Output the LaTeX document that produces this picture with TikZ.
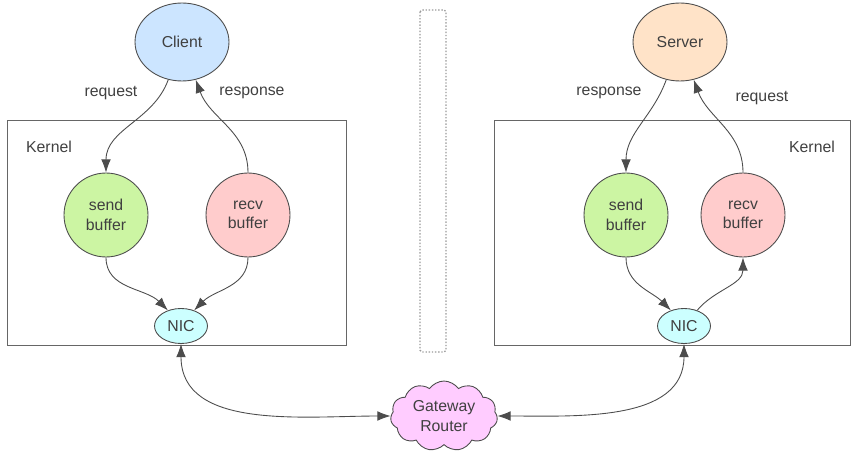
\documentclass[tikz,border=0pt]{standalone}
\usepackage{fontspec}
\setsansfont{Liberation Sans}
\usetikzlibrary{arrows.meta,shapes.symbols,shapes.geometric}
\definecolor{clientfill}{HTML}{CCE5FF}
\definecolor{serverfill}{HTML}{FFE3C8}
\definecolor{sendfill}{HTML}{CCF5A3}
\definecolor{recvfill}{HTML}{FFCCCC}
\definecolor{nicfill}{HTML}{CCFFFF}
\definecolor{gwfill}{HTML}{FFCCFF}
\begin{document}
\begin{tikzpicture}[x=0.02cm, y=-0.02cm, font=\sffamily\fontsize{9}{11}\selectfont, text=black!75,
    line/.style={draw=black!70, line width=0.5pt},
    arr/.style={line, -{Latex[length=7.5pt,width=5.5pt]}},
    biarr/.style={line, {Latex[length=7.5pt,width=5.5pt]}-{Latex[length=7.5pt,width=5.5pt]}},
    host/.style={ellipse, line, minimum width=1.88cm, minimum height=1.56cm},
    buffer/.style={circle, line, minimum size=1.68cm, align=center, inner sep=0pt},
    nic/.style={ellipse, line, fill=nicfill, minimum width=1.06cm, minimum height=0.7cm, inner sep=0pt},
    kernelbox/.style={draw=black!60, line width=0.5pt}]
  \useasboundingbox (0,0) rectangle (862,466);

  % kernels and middle separator
  \draw[kernelbox] (7,120) rectangle (346,345);
  \draw[kernelbox] (494,120) rectangle (850,345);
  \draw[black!40, densely dotted, line width=0.8pt, rounded corners=1pt] (420,10) rectangle (446,352);
  \node (kl) at (49,147) {Kernel};
  \node (kr) at (812,147) {Kernel};

  % client side
  \node[host, fill=clientfill] (client) at (182,42) {Client};
  \node[buffer, fill=sendfill] (sendl) at (106,215) {send\\buffer};
  \node[buffer, fill=recvfill] (recvl) at (248,215) {recv\\buffer};
  \node[nic] (nicl) at (181,326) {NIC};

  % server side
  \node[host, fill=serverfill] (server) at (680,42) {Server};
  \node[buffer, fill=sendfill] (sendr) at (626,215) {send\\buffer};
  \node[buffer, fill=recvfill] (recvr) at (743,215) {recv\\buffer};
  \node[nic] (nicr) at (684,326) {NIC};

  \node[cloud, cloud puffs=11, cloud puff arc=110, aspect=1.6, line, fill=gwfill,
        minimum width=2.14cm, minimum height=1.4cm, align=center, inner sep=1pt] (gw) at (444,416) {Gateway\\Router};

  % connectors
  \draw[arr] (client.250) to[out=250, in=90] (sendl.north);
  \draw[arr] (recvl.north) to[out=90, in=-70] (client.290);
  \draw[arr] (sendl.south) to[out=-90, in=135] (nicl.130);
  \draw[arr] (recvl.south) to[out=-90, in=45] (nicl.50);

  \draw[arr] (server.250) to[out=250, in=90] (sendr.north);
  \draw[arr] (recvr.north) to[out=90, in=-70] (server.290);
  \draw[arr] (sendr.south) to[out=-90, in=135] (nicr.130);
  \draw[arr] (nicr.50) to[out=50, in=-90] (recvr.south);

  \draw[biarr] (nicl.south) to[out=-90, in=180] (gw.west);
  \draw[biarr] (nicr.south) to[out=-90, in=0] (gw.east);

  % labels
  \node (reql) at (111,93) {request};
  \node (resl) at (252,93) {response};
  \node (resr) at (609,93) {response};
  \node (reqr) at (762,98) {request};
\end{tikzpicture}
\end{document}
